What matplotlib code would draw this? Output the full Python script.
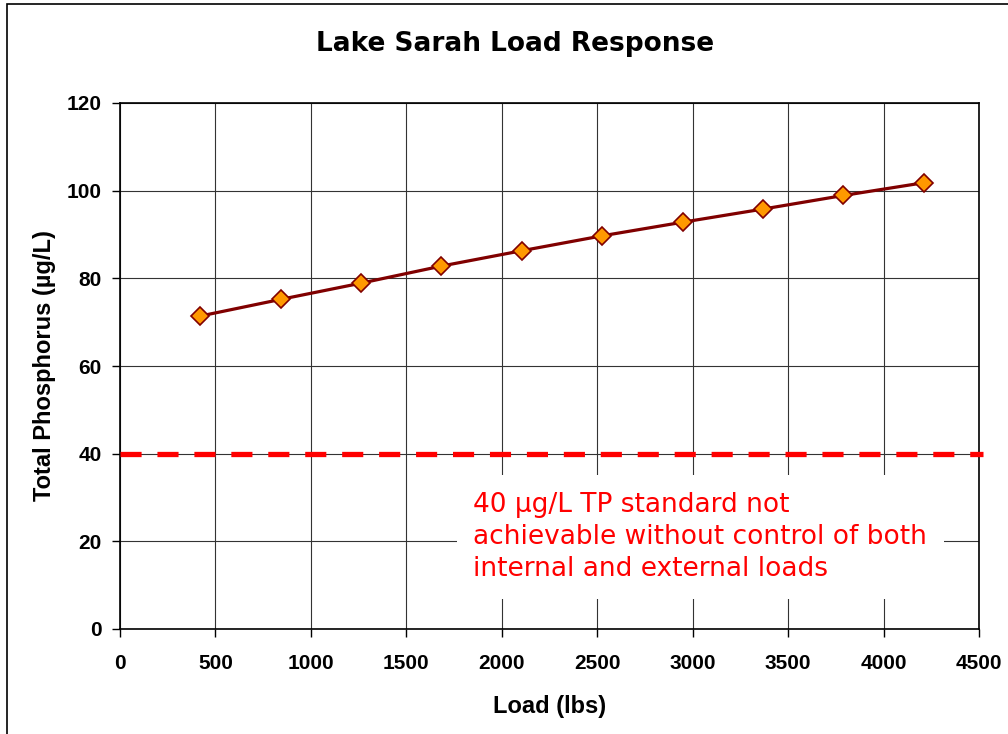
import numpy as np
import matplotlib
matplotlib.use("Agg")
import matplotlib.pyplot as plt
from matplotlib.patches import Rectangle

# data
load_lbs = [421, 842, 1263, 1684, 2105, 2526, 2947, 3368, 3789, 4210]
tp_ugl = [71.4, 75.2, 78.9, 82.8, 86.3, 89.7, 92.8, 95.8, 98.9, 101.8]
tp_standard = 40
x_ticks = np.arange(0, 4501, 500)
y_ticks = np.arange(0, 121, 20)

fig = plt.figure(figsize=(10.08, 7.34), dpi=100)
ax = fig.add_axes([120/1008, 105/734, 859/1008, 526/734])

# outer chart frame
fig.patches.append(Rectangle((7/1008, -0.1), 1.2, 1.1 - 4/734,
                             transform=fig.transFigure, fill=False,
                             edgecolor='black', linewidth=1.2))

ax.plot(load_lbs, tp_ugl, '-', color='#800000', linewidth=2.3,
        marker='D', markersize=9, markerfacecolor='#FF9900',
        markeredgecolor='#800000', markeredgewidth=1.2, zorder=4)

ax.axhline(tp_standard, xmin=0, xmax=1.005, color='red', linewidth=3.8,
           dashes=(4, 3), clip_on=False, zorder=3)

ax.set_xlim(0, 4500)
ax.set_ylim(0, 120)
ax.set_xticks(x_ticks)
ax.set_yticks(y_ticks)
ax.grid(True, color='#333333', linewidth=0.8)
ax.set_axisbelow(True)
ax.tick_params(direction='out', length=6, width=1, color='black')
ax.tick_params(axis='x', pad=12)
ax.tick_params(axis='y', pad=7)
for lab in ax.get_xticklabels() + ax.get_yticklabels():
    lab.set_fontfamily('Liberation Sans')
    lab.set_fontweight('bold')
    lab.set_fontsize(15)
for s in ax.spines.values():
    s.set_linewidth(1.2)
    s.set_color('black')

ax.set_xlabel('Load (lbs)', fontfamily='Liberation Sans', fontweight='bold',
              fontsize=17, labelpad=16)
ax.set_ylabel('Total Phosphorus (\u00b5g/L)', fontfamily='Liberation Sans',
              fontweight='bold', fontsize=17, labelpad=8)
fig.text(515/1008, 1 - 44/734, 'Lake Sarah Load Response', ha='center',
         va='center', fontsize=19, fontweight='bold', fontfamily='DejaVu Sans')

ax.text(1850, 21, '40 \u03bcg/L TP standard not\nachievable without control of both\ninternal and external loads',
        color='red', fontsize=19, ha='left', va='center', linespacing=1.32,
        bbox=dict(facecolor='white', edgecolor='none', pad=12), zorder=5)

fig.savefig('out.png', dpi=100)
